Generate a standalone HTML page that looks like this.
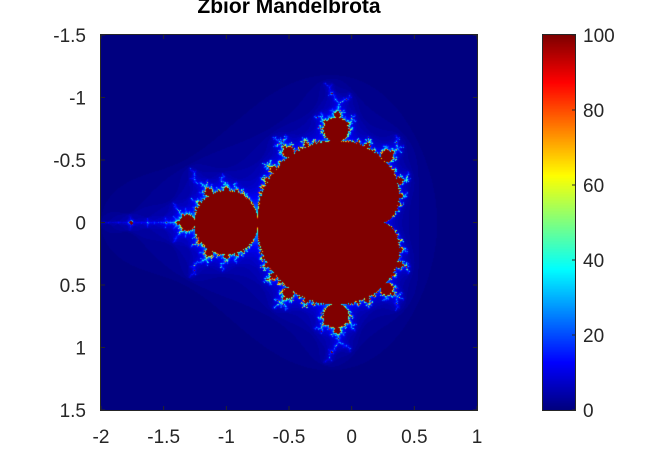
<!DOCTYPE html>
<html><head><meta charset="utf-8"><style>
body{margin:0;background:#fff;width:656px;height:460px;overflow:hidden;position:relative;font-family:"Liberation Sans",sans-serif}
canvas{position:absolute}
</style></head><body>
<canvas id="m" style="left:101px;top:35px" width="376" height="375"></canvas>
<canvas id="cb" style="left:543px;top:35px" width="32" height="375"></canvas>
<svg id="ov" width="656" height="460" style="position:absolute;left:0;top:0"></svg>
<script>
const xTicks=[-2,-1.5,-1,-0.5,0,0.5,1];
const yTicks=[-1.5,-1,-0.5,0,0.5,1,1.5];
const cTicks=[0,20,40,60,80,100];
const maxIter=100;
const X0=101,X1=477,Y0=35,Y1=410;
const sx=v=>X0+(v-(-2))/3*(X1-X0);
const sy=v=>Y0+(v-(-1.5))/3*(Y1-Y0);
const cy=v=>Y1-(v/100)*(Y1-Y0);
function cl(v){return Math.max(0,Math.min(1,v));}
function jet(t){return [cl(1.5-Math.abs(4*t-3))*255,cl(1.5-Math.abs(4*t-2))*255,cl(1.5-Math.abs(4*t-1))*255];}
const c=document.getElementById('m'),ctx=c.getContext('2d');
const W=c.width,H=c.height,img=ctx.createImageData(W,H);
for(let j=0;j<H;j++){const ci=-1.5+3*(j+0.3)/H;
for(let i=0;i<W;i++){const cr=-2+3*(i+0.5)/W;let zr=0,zi=0,n=0;
while(n<maxIter&&zr*zr+zi*zi<=4){const t=zr*zr-zi*zi+cr;zi=2*zr*zi+ci;zr=t;n++;}
const tv=n>=maxIter?1:Math.max(0,n-3)/97;
const col=jet(tv),k=(j*W+i)*4;img.data[k]=col[0];img.data[k+1]=col[1];img.data[k+2]=col[2];img.data[k+3]=255;}}
ctx.putImageData(img,0,0);
const cb=document.getElementById('cb'),cc=cb.getContext('2d');
for(let j=0;j<cb.height;j++){const col=jet(1-j/(cb.height-1));cc.fillStyle=`rgb(${col[0]|0},${col[1]|0},${col[2]|0})`;cc.fillRect(0,j,32,1);}
const ov=document.getElementById('ov'),NS='http://www.w3.org/2000/svg';
function el(tag,attrs,txt){const e=document.createElementNS(NS,tag);for(const k in attrs)e.setAttribute(k,attrs[k]);if(txt!==undefined)e.textContent=txt;ov.appendChild(e);return e;}
let b=el('rect',{x:X0-0.5,y:Y0-0.5,width:X1-X0+1,height:Y1-Y0+1,fill:'none',stroke:'#262626','stroke-width':1});

let b2=el('rect',{x:542.5,y:Y0-0.5,width:33,height:Y1-Y0+1,fill:'none',stroke:'#262626','stroke-width':1});

xTicks.forEach(v=>{const x=sx(v);
el('line',{x1:x,x2:x,y1:Y1,y2:Y1-4,stroke:'#262626'});el('line',{x1:x,x2:x,y1:Y0,y2:Y0+4,stroke:'#262626'});
const t=el('text',{x:x,y:443,'text-anchor':'middle','font-size':19,fill:'#262626'},String(v));
});
yTicks.forEach(v=>{const y=sy(v);
el('line',{x1:X0,x2:X0+4,y1:y,y2:y,stroke:'#262626'});el('line',{x1:X1,x2:X1-4,y1:y,y2:y,stroke:'#262626'});
const t=el('text',{x:86,y:y+7,'text-anchor':'end','font-size':19,fill:'#262626'},String(v));
});
cTicks.forEach(v=>{const y=cy(v);
el('line',{x1:572,x2:575,y1:y,y2:y,stroke:'#262626'});
const t=el('text',{x:583,y:y+7,'font-size':19,fill:'#262626'},String(v));
});
const tt=el('text',{x:289,y:13,'text-anchor':'middle','font-size':21,'font-weight':'bold',fill:'#000'},'Zbior Mandelbrota');

</script>
</body></html>
